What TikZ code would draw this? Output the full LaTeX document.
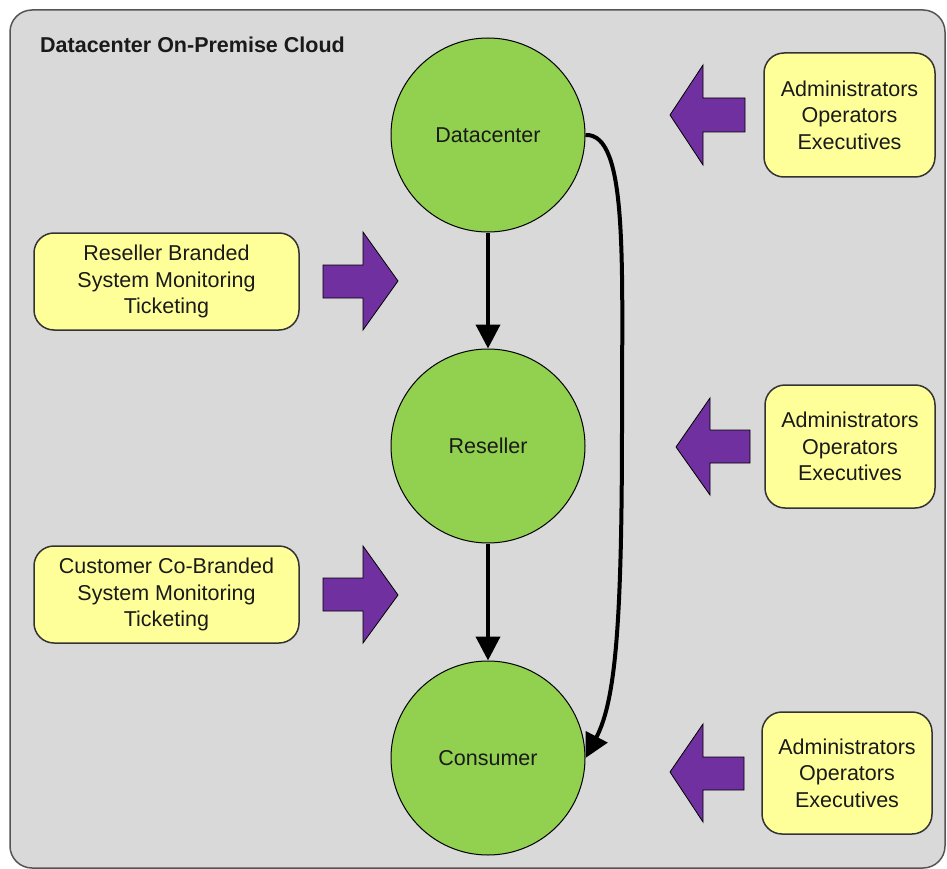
\documentclass[tikz,border=0pt]{standalone}
\usepackage{fontspec}
\setmainfont{Liberation Sans}
\usetikzlibrary{arrows.meta}
\definecolor{panelgray}{HTML}{D9D9D9}
\definecolor{panelline}{HTML}{555555}
\definecolor{nodegreen}{HTML}{92D050}
\definecolor{noteyellow}{HTML}{FFFF99}
\definecolor{blockpurple}{HTML}{7030A0}
\definecolor{inktext}{HTML}{1A1A1A}
\tikzset{
  stage/.style={circle, draw=black, line width=1pt, fill=nodegreen, minimum size=194pt,
    inner sep=0pt, font=\fontsize{21.5}{26}\selectfont, text=inktext},
  note/.style={draw=black!80, line width=1.5pt, fill=noteyellow, rounded corners=20pt,
    align=center, inner sep=0pt, font=\fontsize{21.5}{26.5}\selectfont, text=inktext},
  block/.style={draw=black, line width=0.8pt, fill=blockpurple, line join=miter},
  flow/.style={line width=4pt, -{Triangle[width=24pt,length=24pt]}},
}
\begin{document}
\begin{tikzpicture}[x={(1pt,0)}, y={(0,-1pt)}]
\useasboundingbox (0,0) rectangle (947,869);
% cloud panel
\draw[fill=panelgray, draw=panelline, line width=1.5pt, rounded corners=22pt]
  (10,10) rectangle (945,868);
\node[anchor=base west, inner sep=0pt, font=\bfseries\fontsize{21.5}{26}\selectfont, text=inktext]
  (title) at (40,53) {Datacenter On-Premise Cloud};

% stages
\node[stage] (dc)  at (488,135) {Datacenter};
\node[stage] (res) at (488,446) {Reseller};
\node[stage] (con) at (488,758) {Consumer};

% notes
\node[note, minimum width=171pt, minimum height=124pt] (n1) at (849.5,115) {Administrators\\Operators\\Executives};
\node[note, minimum width=170pt, minimum height=123pt] (n2) at (850,446.5) {Administrators\\Operators\\Executives};
\node[note, minimum width=170pt, minimum height=122pt] (n3) at (847,773) {Administrators\\Operators\\Executives};
\node[note, minimum width=265pt, minimum height=97pt] (l1) at (166.5,281.5) {Reseller Branded\\System Monitoring\\Ticketing};
\node[note, minimum width=265pt, minimum height=97pt] (l2) at (166.5,594.5) {Customer Co-Branded\\System Monitoring\\Ticketing};

% block arrows
\draw[block] (670,115) -- (703,65) -- (703,98) -- (745,98) -- (745,132) -- (703,132) -- (703,165) -- cycle;
\draw[block] (676,447) -- (710,398) -- (710,430) -- (750,430) -- (750,463) -- (710,463) -- (710,495) -- cycle;
\draw[block] (670,772) -- (703,724) -- (703,757) -- (744,757) -- (744,790) -- (703,790) -- (703,822) -- cycle;
\draw[block] (398,281) -- (363,232) -- (363,265) -- (323,265) -- (323,298) -- (363,298) -- (363,330) -- cycle;
\draw[block] (398,595) -- (363,546) -- (363,578) -- (323,578) -- (323,611) -- (363,611) -- (363,643) -- cycle;

% connectors
\draw[flow] (dc.south) -- (res.north);
\draw[flow] (res.south) -- (con.north);
\coordinate (bend) at (622,420);
\draw[line width=4pt] (dc.east) .. controls (628,133) and (622,260) .. (bend);
\draw[flow] (bend) .. controls (622,620) and (616,700) .. (con.east);
\end{tikzpicture}
\end{document}
